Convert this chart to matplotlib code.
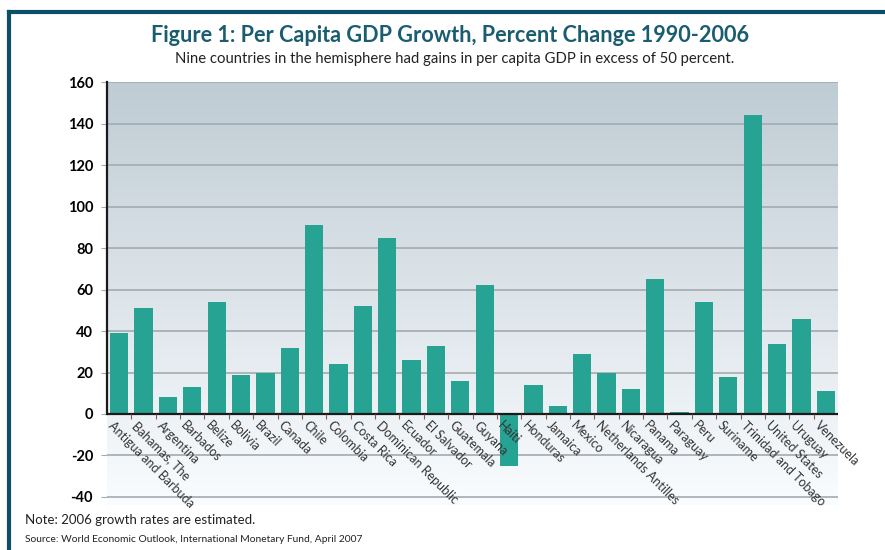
import numpy as np
import matplotlib
matplotlib.use("Agg")
import matplotlib.pyplot as plt
from matplotlib.lines import Line2D

# dados
paises = ["Antigua and Barbuda", "Bahamas, The", "Argentina", "Barbados", "Belize",
          "Bolivia", "Brazil", "Canada", "Chile", "Colombia", "Costa Rica",
          "Dominican Republic", "Ecuador", "El Salvador", "Guatemala", "Guyana",
          "Haiti", "Honduras", "Jamaica", "Mexico", "Netherlands Antilles",
          "Nicaragua", "Panama", "Paraguay", "Peru", "Suriname",
          "Trinidad and Tobago", "United States", "Uruguay", "Venezuela"]
crescimento = [39, 51, 8, 13, 54, 19, 20, 32, 91, 24, 52, 85, 26, 33, 16, 62,
               -25, 14, 4, 29, 20, 12, 65, 1, 54, 18, 144, 34, 46, 11]
y_ticks = [-40, -20, 0, 20, 40, 60, 80, 100, 120, 140, 160]

titulo = "Figure 1: Per Capita GDP Growth, Percent Change 1990-2006"
subtitulo = "Nine countries in the hemisphere had gains in per capita GDP in excess of 50 percent."
nota = "Note: 2006 growth rates are estimated."
fonte = "Source: World Economic Outlook, International Monetary Fund, April 2007"

plt.rcParams['font.family'] = ['Lato', 'DejaVu Sans']

cor_barra = '#27a393'
cor_borda = '#0d5066'
cor_titulo = '#1b5d70'

fig = plt.figure(figsize=(8.85, 5.5), dpi=100)
W, H = 885.0, 550.0
ymin, ymax = -44, 160
ax = fig.add_axes([107 / W, 1 - 505.2 / H, (838 - 107) / W, (505.2 - 82.3) / H])
ax.set_xlim(-0.5, len(paises) - 0.5)
ax.set_ylim(ymin, ymax)

# fundo em degrade (cinza azulado em cima, quase branco embaixo)
grad = np.linspace(0, 1, 256).reshape(-1, 1)
topo = np.array([0.75, 0.80, 0.83])
base = np.array([0.98, 0.99, 1.0])
img = topo[None, None, :] * (1 - grad[:, :, None]) + base[None, None, :] * grad[:, :, None]
ax.imshow(img, extent=[-0.5, len(paises) - 0.5, ymin, ymax], aspect='auto',
          origin='upper', zorder=0)

# linhas de grade
for t in y_ticks:
    if t != 0:
        ax.axhline(t, color='#a3abb0', lw=1.2, zorder=1)

x = np.arange(len(paises))
ax.bar(x, crescimento, width=0.75, color=cor_barra, zorder=2)

# eixo do zero e marcas entre as barras
ax.axhline(0, color='#1a1a1a', lw=1.6, zorder=3)
ax.vlines(np.arange(len(paises)) + 0.5, -2.2, 0, color='#8a5a4a', lw=0.8, zorder=3)
ax.plot([-0.5, -0.5], [0, 160], color='#1a1a1a', lw=1.6, zorder=3, clip_on=False)

for s in ax.spines.values():
    s.set_visible(False)

ax.set_xticks([])
ax.set_yticks(y_ticks)
ax.set_yticklabels([str(t) for t in y_ticks], fontsize=10.5, fontweight='bold')
ax.tick_params(axis='y', length=4, color='#a3abb0', pad=6)

# rotulos dos paises em diagonal
for i, nome in enumerate(paises):
    ax.text(i - 0.2, -2.5, nome, rotation=-45, rotation_mode='anchor',
            ha='left', va='top', fontsize=9, color='#333333', zorder=5)

# titulos e notas
fig.text(0.508, 1 - 35 / H, titulo, ha='center', va='center', fontsize=15.6,
         fontweight='bold', color=cor_titulo)
fig.text(0.514, 1 - 59 / H, subtitulo, ha='center', va='center', fontsize=10.7,
         color='#222222')
fig.text(25 / W, 1 - 520 / H, nota, ha='left', va='center', fontsize=9.5,
         color='#222222')
fig.text(25 / W, 1 - 539 / H, fonte, ha='left', va='center', fontsize=7.4,
         color='#222222')

# moldura em cima e na esquerda
fig.add_artist(Line2D([9 / W, 1], [1 - 12 / H, 1 - 12 / H], color=cor_borda, lw=3))
fig.add_artist(Line2D([9 / W, 9 / W], [0, 1 - 12 / H], color=cor_borda, lw=3))

fig.savefig('out.png', dpi=100)
